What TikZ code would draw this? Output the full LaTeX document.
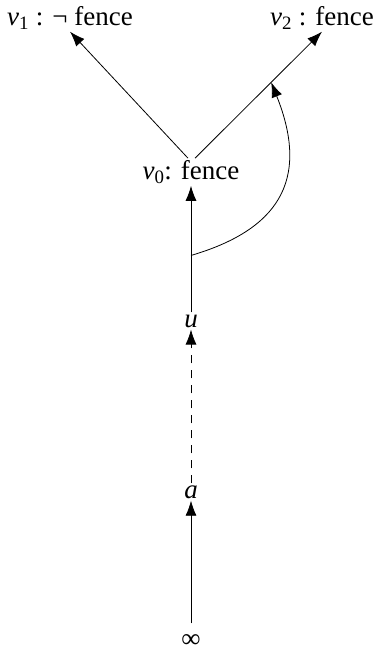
\documentclass[tikz,border=0pt]{standalone}
\usepackage{fontspec}
\setmainfont{Liberation Serif}
\usetikzlibrary{arrows.meta}
\newcommand{\vsub}[1]{\textit{v}\textsubscript{#1}}
\begin{document}
\begin{tikzpicture}[x=1pt,y=-1pt,
  lbl/.style={inner sep=2pt,font=\fontsize{27}{32}\selectfont},
  arr/.style={line width=0.8pt,-{Latex[length=15pt,width=11pt]}},
  dsh/.style={arr,dash pattern=on 8pt off 7pt}]
\useasboundingbox (0,0) rectangle (375,655);
\node[lbl] (v1) at (70,18) {\vsub{1} : ¬ fence};
\node[lbl] (v2) at (322,18) {\vsub{2} : fence};
\node[lbl] (v0) at (191,172) {\vsub{0}: fence};
\node[lbl] (u) at (191,321) {\textit{u}};
\node[lbl] (a) at (191,492) {\textit{a}};
\node[lbl,inner sep=1pt] (inf) at (191,641) {∞};
\draw[arr] ([xshift=-3pt]v0.north) -- (v1.south);
\draw[arr] ([xshift=4pt]v0.north) -- coordinate[pos=0.6] (m) (v2.south);
\draw[arr] (u) -- coordinate[pos=0.45] (s) (v0);
\draw[dsh] (a) -- (u);
\draw[arr,shorten <=10pt] (inf) -- (a);
\draw[arr] (s) .. controls +(85,-25) and +(40,100) .. (m);
\end{tikzpicture}
\end{document}
